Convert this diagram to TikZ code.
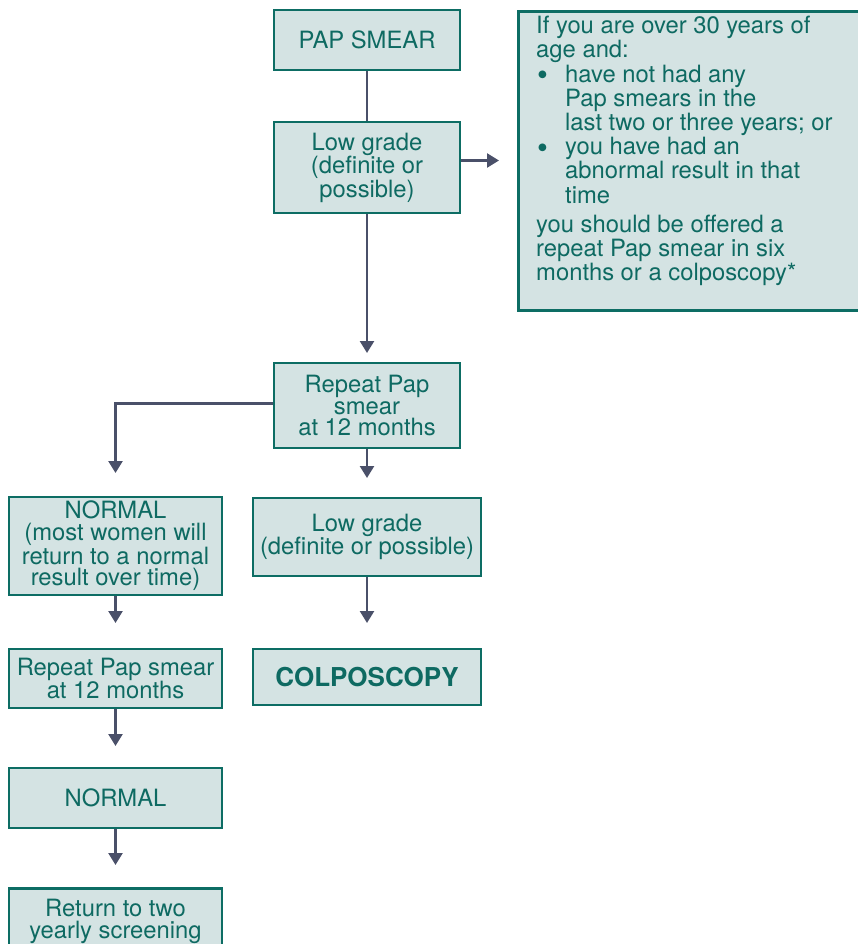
\documentclass[tikz,border=0pt]{standalone}
\usepackage{fontspec}
\setmainfont{TeX Gyre Heros}
\usetikzlibrary{arrows.meta}
\definecolor{boxfill}{HTML}{D4E3E3}
\definecolor{boxline}{HTML}{0D6D64}
\definecolor{txt}{HTML}{0E6A62}
\definecolor{arr}{HTML}{4A5069}
\newcommand{\bigbul}{\raisebox{-3.5pt}{\scalebox{1.3}{•}}}
\begin{document}
\begin{tikzpicture}[x=1pt,y=-1pt,
  box/.style={draw=boxline, fill=boxfill, line width=2.5pt, text=txt, align=center,
    inner sep=0pt, font=\fontsize{23.8}{21.7}\selectfont},
  conn/.style={draw=arr, line width=2.5pt},
  arrowc/.style={conn, -{Triangle[width=14pt,length=12pt]}},
  rtext/.style={text=txt, align=left, inner sep=0pt, font=\fontsize{23.8}{24.2}\selectfont}]
\useasboundingbox (0,0) rectangle (858,944);
\clip (0,0) rectangle (858,944);

% boxes
\node[box, minimum width=186pt, minimum height=60pt] (pap) at (367,40) {PAP SMEAR};
\node[box, minimum width=186pt, minimum height=91pt] (low1) at (367,167.5) {Low grade\\(definite or\\possible)};
\node[box, minimum width=186pt, minimum height=85pt] (rep1) at (367,405.5) {Repeat Pap\\smear\\at 12 months};
\node[box, minimum width=213pt, minimum height=98pt] (norm1) at (115.5,546) {NORMAL\\(most women will\\return to a normal\\result over time)};
\node[box, minimum width=228pt, minimum height=78pt] (low2) at (367,537) {Low grade\\(definite or possible)};
\node[box, minimum width=213pt, minimum height=59pt] (rep2) at (115.5,678.5) {Repeat Pap smear\\at 12 months};
\node[box, minimum width=228pt, minimum height=56pt, font=\fontsize{26}{22}\selectfont\bfseries] (colp) at (367,677) {COLPOSCOPY};
\node[box, minimum width=213pt, minimum height=60pt] (norm2) at (115.5,798) {NORMAL};
\node[box, minimum width=213pt, minimum height=66pt, anchor=north] (ret) at (115.5,887.25) {Return to two\\yearly screening};

% right info box
\node[draw=boxline, fill=boxfill, line width=2.5pt, minimum width=360pt, minimum height=299pt,
  anchor=north west, inner sep=0pt] (info) at (517.25,10.25) {};
\node[rtext, anchor=north west] (infotext) at (536,16) {If you are over 30 years of\\
age and:\\
\makebox[29pt][l]{\hspace{1pt}\bigbul}have not had any\\
\makebox[29pt][l]{}Pap smears in the\\
\makebox[29pt][l]{}last two or three years; or\\
\makebox[29pt][l]{\hspace{1pt}\bigbul}you have had an\\
\makebox[29pt][l]{}abnormal result in that\\
\makebox[29pt][l]{}time\\[5pt]
you should be offered a\\
repeat Pap smear in six\\
months or a colposcopy*};

% connector end points
\coordinate (t1) at (499,160.5);
\coordinate (t2) at (367,353);
\coordinate (bend) at (115.5,403.5);
\coordinate (t3) at (115.5,473);
\coordinate (t4) at (367,478);
\coordinate (t5) at (115.5,623);
\coordinate (t6) at (367,623);
\coordinate (t7) at (115.5,746);
\coordinate (t8) at (115.5,865);

% connectors
\draw[conn] (pap.south) -- (low1.north);
\draw[arrowc] (low1.east |- t1) -- (t1);
\draw[arrowc] (low1.south) -- (t2);
\draw[arrowc] (rep1.west |- bend) -- (bend) -- (t3);
\draw[arrowc] (rep1.south) -- (t4);
\draw[arrowc] (norm1.south) -- (t5);
\draw[arrowc] (low2.south) -- (t6);
\draw[arrowc] (rep2.south) -- (t7);
\draw[arrowc] (norm2.south) -- (t8);
\end{tikzpicture}
\end{document}
